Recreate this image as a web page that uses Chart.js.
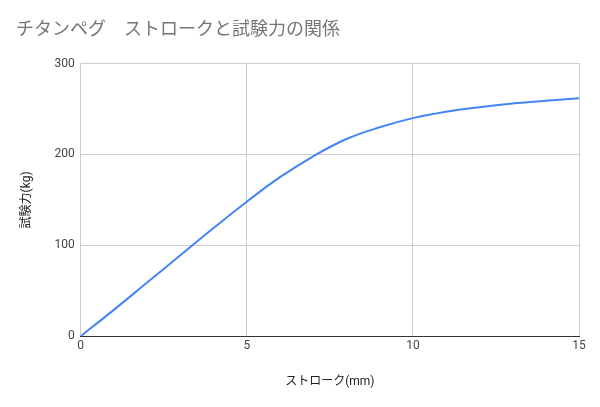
<!DOCTYPE html>
<html>
<head>
<meta charset="utf-8">
<script src="https://cdn.jsdelivr.net/npm/chart.js@4"></script>
<style>
  html, body { margin: 0; padding: 0; background: #fff; }
  #wrap { width: 600px; height: 407px; }
</style>
</head>
<body>
<div id="wrap"><canvas id="chart"></canvas></div>
<script>
// stroke (mm) vs test force (kg)
const stroke = [0, 1, 2, 3, 4, 5, 6, 7, 8, 9, 10, 11, 12, 13, 14, 15]
const force = [0, 29, 59, 89, 119, 148, 175, 198, 217, 230, 240, 247, 252, 256, 259, 262]

const font = "Roboto, 'Noto Sans CJK JP', sans-serif"

new Chart(document.getElementById('chart'), {
  type: 'line',
  data: {
    datasets: [{
      data: stroke.map((x, i) => ({x: x, y: force[i]})),
      borderColor: '#4285f4',
      borderWidth: 2,
      pointRadius: 0,
      tension: 0.4,
      fill: false
    }]
  },
  options: {
    responsive: true,
    maintainAspectRatio: false,
    animation: false,
    layout: { padding: { left: 16, right: 21, top: 0, bottom: 14 } },
    plugins: {
      legend: { display: false },
      tooltip: { enabled: false },
      title: {
        display: true,
        text: 'チタンペグ　ストロークと試験力の関係',
        align: 'start',
        color: '#757575',
        font: { family: font, size: 18, weight: 'normal' },
        padding: { top: 20, bottom: 22 }
      }
    },
    scales: {
      x: {
        type: 'linear',
        min: 0, max: 15,
        ticks: { stepSize: 5, color: '#444', font: { family: font, size: 12 } },
        grid: { color: '#cccccc', drawTicks: false },
        border: { color: '#333' },
        title: { display: true, text: 'ストローク(mm)', color: '#222', font: { family: font, size: 12 }, padding: { top: 18 } }
      },
      y: {
        min: 0, max: 300,
        ticks: { stepSize: 100, color: '#444', font: { family: font, size: 12 }, padding: 6 },
        grid: { color: '#cccccc', drawTicks: false },
        border: { display: false },
        title: { display: true, text: '試験力(kg)', color: '#222', font: { family: font, size: 12 }, padding: { bottom: 14 } }
      }
    }
  }
})
</script>
</body>
</html>
